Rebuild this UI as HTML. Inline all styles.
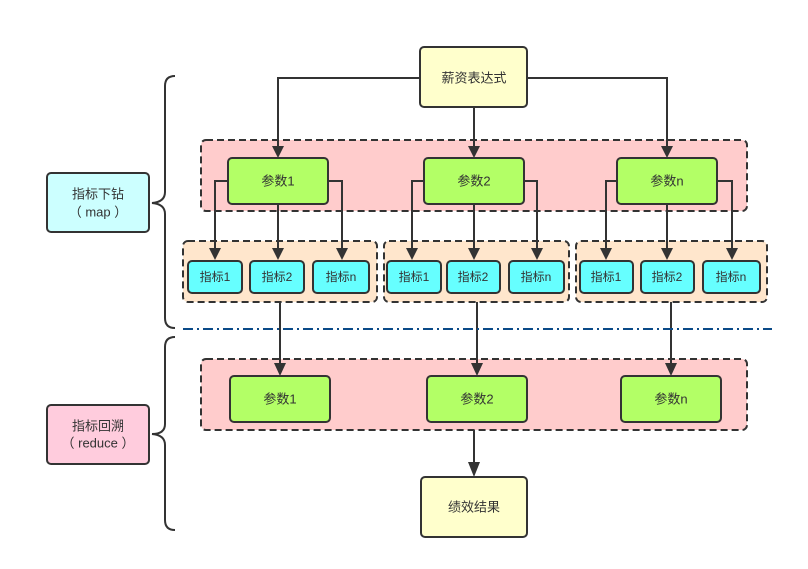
<!DOCTYPE html>
<html><head><meta charset="utf-8"><style>
html,body{margin:0;padding:0;background:#fff}
svg{display:block}
text{font-family:"Liberation Sans","Noto Sans CJK SC",sans-serif;fill:#333;text-anchor:middle;dominant-baseline:central}
</style></head><body>
<svg width="808" height="569" viewBox="0 0 808 569" xmlns="http://www.w3.org/2000/svg">
<defs>
<marker id="a" markerWidth="10" markerHeight="12" refX="5" refY="12" orient="auto-start-reverse" markerUnits="userSpaceOnUse" viewBox="0 0 10 12">
</marker>
</defs>
<g stroke="#333" stroke-width="2">
<!-- bands -->
<rect x="201" y="140" width="546" height="71" rx="5" fill="#ffcccc" stroke-dasharray="7,4"/>
<rect x="183" y="241" width="194" height="61" rx="5" fill="#ffe6cc" stroke-dasharray="7,4"/>
<rect x="384" y="241" width="185" height="61" rx="5" fill="#ffe6cc" stroke-dasharray="7,4"/>
<rect x="576" y="241" width="191" height="61" rx="5" fill="#ffe6cc" stroke-dasharray="7,4"/>
<rect x="201" y="359" width="546" height="71" rx="5" fill="#ffcccc" stroke-dasharray="7,4"/>
<!-- connectors -->
<g fill="none">
<polyline points="420,78 278,78 278,150"/>
<polyline points="527,78 667,78 667,150"/>
<line x1="474" y1="107" x2="474" y2="150"/>
<polyline points="228,181 215,181 215,252"/><line x1="278" y1="204" x2="278" y2="252"/><polyline points="328,181 342,181 342,252"/>
<polyline points="424,181 412,181 412,252"/><line x1="474" y1="204" x2="474" y2="252"/><polyline points="524,181 537,181 537,252"/>
<polyline points="617,181 606,181 606,252"/><line x1="667" y1="204" x2="667" y2="252"/><polyline points="717,181 732,181 732,252"/>
<line x1="280" y1="302" x2="280" y2="368"/>
<line x1="477" y1="302" x2="477" y2="368"/>
<line x1="671" y1="302" x2="671" y2="368"/>
<line x1="474" y1="430" x2="474" y2="467"/>
<!-- braces -->
<path d="M175,76 Q165,76 165,86 L165,192 Q165,202 152,203 Q165,204 165,214 L165,318 Q165,328 175,328"/>
<path d="M175,337 Q165,337 165,347 L165,424 Q165,434 152,434 Q165,435 165,445 L165,520 Q165,530 175,530"/>
</g>
</g>
<!-- arrowheads -->
<g fill="#333">
<polygon points="272,146 284,146 278,158"/><polygon points="468,146 480,146 474,158"/><polygon points="661,146 673,146 667,158"/>
<polygon points="209,248 221,248 215,260"/><polygon points="272,248 284,248 278,260"/><polygon points="336,248 348,248 342,260"/>
<polygon points="406,248 418,248 412,260"/><polygon points="468,248 480,248 474,260"/><polygon points="531,248 543,248 537,260"/>
<polygon points="600,248 612,248 606,260"/><polygon points="661,248 673,248 667,260"/><polygon points="726,248 738,248 732,260"/>
<polygon points="274,363 286,363 280,376"/><polygon points="471,363 483,363 477,376"/><polygon points="665,363 677,363 671,376"/>
<polygon points="468,462 480,462 474,477"/>
</g>
<!-- dash-dot line -->
<line x1="183" y1="329" x2="772" y2="329" stroke="#0b4a87" stroke-width="2" stroke-dasharray="10,4,2,4"/>
<g stroke="#333" stroke-width="2">
<rect x="420" y="47" width="107" height="60" rx="4" fill="#ffffcc"/>
<rect x="228" y="158" width="100" height="46" rx="4" fill="#b3ff66"/>
<rect x="424" y="158" width="100" height="46" rx="4" fill="#b3ff66"/>
<rect x="617" y="158" width="100" height="46" rx="4" fill="#b3ff66"/>
<rect x="188" y="261" width="54" height="32" rx="4" fill="#66ffff"/>
<rect x="250" y="261" width="54" height="32" rx="4" fill="#66ffff"/>
<rect x="313" y="261" width="56" height="32" rx="4" fill="#66ffff"/>
<rect x="387" y="261" width="54" height="32" rx="4" fill="#66ffff"/>
<rect x="447" y="261" width="53" height="32" rx="4" fill="#66ffff"/>
<rect x="509" y="261" width="55" height="32" rx="4" fill="#66ffff"/>
<rect x="580" y="261" width="53" height="32" rx="4" fill="#66ffff"/>
<rect x="641" y="261" width="53" height="32" rx="4" fill="#66ffff"/>
<rect x="703" y="261" width="57" height="32" rx="4" fill="#66ffff"/>
<rect x="230" y="376" width="100" height="46" rx="4" fill="#b3ff66"/>
<rect x="427" y="376" width="100" height="46" rx="4" fill="#b3ff66"/>
<rect x="621" y="376" width="100" height="46" rx="4" fill="#b3ff66"/>
<rect x="421" y="477" width="106" height="60" rx="4" fill="#ffffcc"/>
<rect x="47" y="173" width="102" height="59" rx="4" fill="#ccffff"/>
<rect x="47" y="405" width="102" height="59" rx="4" fill="#ffccdd"/>
</g>
<g font-size="13">
<text x="474" y="78">薪资表达式</text>
<text x="278" y="181">参数1</text><text x="474" y="181">参数2</text><text x="667" y="181">参数n</text>
<text x="280" y="399">参数1</text><text x="477" y="399">参数2</text><text x="671" y="399">参数n</text>
<text x="474" y="507">绩效结果</text>
<text x="98" y="194">指标下钻</text><text x="98" y="212">（ map ）</text>
<text x="98" y="426">指标回溯</text><text x="98" y="443">（ reduce ）</text>
</g>
<g font-size="12">
<text x="215" y="277">指标1</text><text x="277" y="277">指标2</text><text x="341" y="277">指标n</text>
<text x="414" y="277">指标1</text><text x="473" y="277">指标2</text><text x="536" y="277">指标n</text>
<text x="606" y="277">指标1</text><text x="667" y="277">指标2</text><text x="731" y="277">指标n</text>
</g>
</svg>
</body></html>
